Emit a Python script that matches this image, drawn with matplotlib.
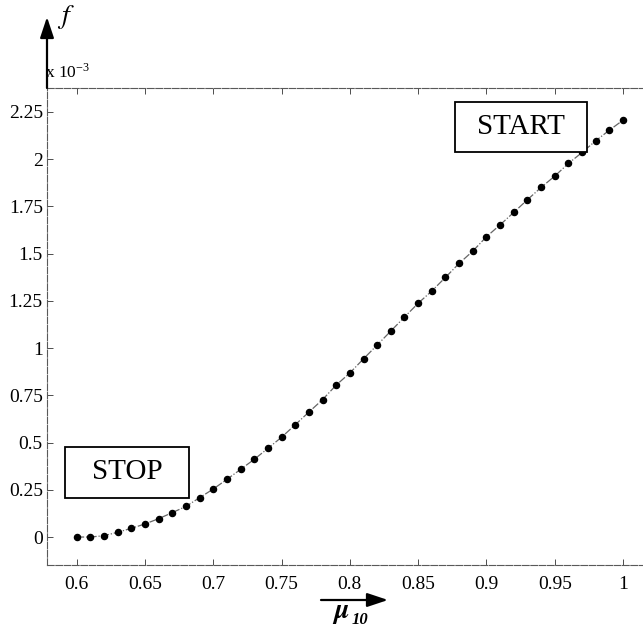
import numpy as np
import matplotlib
matplotlib.use("Agg")
import matplotlib.pyplot as plt
from matplotlib.patches import Rectangle, FancyArrowPatch

plt.rcParams['font.family'] = ['Liberation Serif', 'DejaVu Serif']
plt.rcParams['mathtext.fontset'] = 'stix'

# mu_10 sweep and objective f (in units of 1e-3)
mu10 = [0.60, 0.61, 0.62, 0.63, 0.64, 0.65, 0.66, 0.67, 0.68, 0.69,
        0.70, 0.71, 0.72, 0.73, 0.74, 0.75, 0.76, 0.77, 0.78, 0.79,
        0.80, 0.81, 0.82, 0.83, 0.84, 0.85, 0.86, 0.87, 0.88, 0.89,
        0.90, 0.91, 0.92, 0.93, 0.94, 0.95, 0.96, 0.97, 0.98, 0.99, 1.00]
f_e3 = [0.000, 0.000, 0.007, 0.025, 0.046, 0.069, 0.097, 0.129, 0.162, 0.208,
        0.254, 0.305, 0.358, 0.411, 0.469, 0.528, 0.594, 0.661, 0.727, 0.804,
        0.868, 0.943, 1.016, 1.090, 1.164, 1.237, 1.302, 1.374, 1.448, 1.513,
        1.589, 1.652, 1.718, 1.785, 1.850, 1.910, 1.977, 2.035, 2.097, 2.153, 2.206]

xticks = [0.6, 0.65, 0.7, 0.75, 0.8, 0.85, 0.9, 0.95, 1.0]
xticklabels = ['0.6', '0.65', '0.7', '0.75', '0.8', '0.85', '0.9', '0.95', '1']
yticks = [0, 0.25, 0.5, 0.75, 1.0, 1.25, 1.5, 1.75, 2.0, 2.25]
yticklabels = ['0', '0.25', '0.5', '0.75', '1', '1.25', '1.5', '1.75', '2', '2.25']

fig = plt.figure(figsize=(6.43, 6.27), dpi=100)
ax = fig.add_axes([0.0731, 0.0989, 0.9269, 0.7607])

ax.plot(mu10, f_e3, color='0.4', lw=0.9, ls=(0, (6, 1.5, 1, 1.5)),
        marker='o', ms=4.4, mfc='black', mec='black')

ax.set_xlim(0.5783, 1.0146)
ax.set_ylim(-0.148, 2.376)
ax.set_xticks(xticks)
ax.set_xticklabels(xticklabels)
ax.set_yticks(yticks)
ax.set_yticklabels(yticklabels)
ax.tick_params(direction='in', length=4, width=0.7, color='0.3',
               labelsize=14, top=True, right=False)
ax.tick_params(axis='x', pad=8)
ax.tick_params(axis='y', pad=3)

for side in ['left', 'bottom', 'top']:
    ax.spines[side].set_color('0.35')
    ax.spines[side].set_linewidth(0.8)
    ax.spines[side].set_linestyle((0, (6, 1.5)))
ax.spines['right'].set_visible(False)

# START / STOP labels in framed boxes
for (x0, x1, y0, y1, label) in [(0.5914, 0.6824, 0.208, 0.478, 'STOP'),
                                (0.8770, 0.9738, 2.039, 2.303, 'START')]:
    ax.add_patch(Rectangle((x0, y0), x1 - x0, y1 - y0, fc='white',
                           ec='black', lw=1.3, zorder=3))
    ax.text((x0 + x1) / 2, (y0 + y1) / 2, label, fontsize=21,
            ha='center', va='center', zorder=4)

# axis arrows drawn in figure coordinates
arrow_kw = dict(transform=fig.transFigure,
                arrowstyle='-|>,head_length=0.9,head_width=0.3',
                mutation_scale=14, color='black', lw=1.6, shrinkA=0, shrinkB=0)
fig.add_artist(FancyArrowPatch((47 / 643, 1 - 88 / 627),
                               (47 / 643, 1 - 17 / 627), **arrow_kw))
fig.text(57 / 643, 1 - 17 / 627, r'$f$', fontsize=20, ha='left', va='center')
fig.text(45 / 643, 1 - 78 / 627, r'x 10$^{\mathregular{-3}}$', fontsize=12.5,
         ha='left', va='baseline')

fig.add_artist(FancyArrowPatch((321 / 643, 1 - 600 / 627),
                               (388 / 643, 1 - 600 / 627), **arrow_kw))
fig.text(332 / 643, 1 - 614 / 627, r'$\boldsymbol{\mu}$', fontsize=20,
         ha='left', va='center')
fig.text(352 / 643, 1 - 620 / 627, '10', fontsize=12, style='italic',
         fontweight='bold', ha='left', va='center')

fig.savefig('out.png', dpi=100)
